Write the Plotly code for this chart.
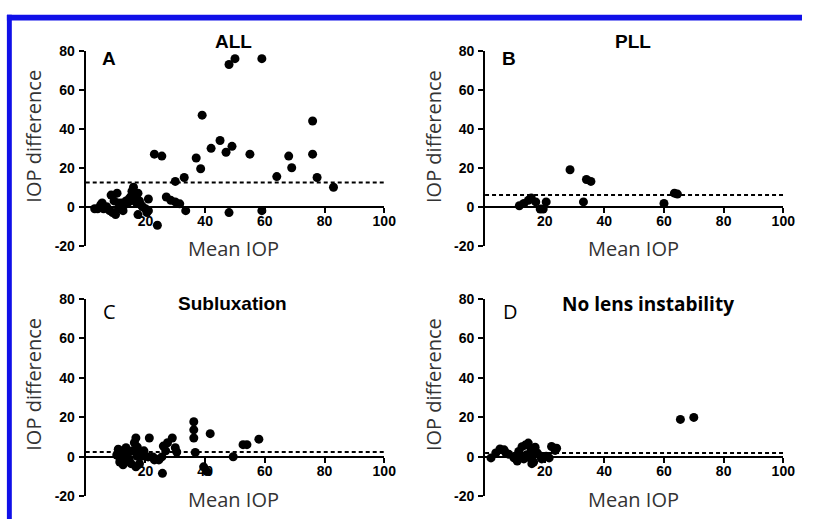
import plotly.graph_objects as go

W, H = 814, 527

# ---------------- data ----------------
panel_letters = ["A", "B", "C", "D"]
panel_titles = ["ALL", "PLL", "Subluxation", "No lens instability"]

A_x = [3, 4, 5, 5.5, 6, 7, 8, 8.5, 9, 9.5, 10, 10.5, 11, 11, 12, 12.5, 13, 13.5, 14, 14.5,
       15, 15, 15.5, 16, 16, 16.5, 17, 17, 17.5, 18, 18.5, 19, 17.5, 20, 20.5, 21, 21, 24,
       27, 28.5, 30, 31.5, 33.5, 30, 33, 23, 25.5, 37, 38.5, 39, 42, 45, 47, 49, 48, 50, 59,
       55, 48, 59, 64, 68, 69, 76, 76, 77.5, 83]
A_y = [-1, -1, 1, 2, -1, 0, -2, 6, -3, 3, -4, 7, -1, 2, 2, -2, 1, 3, 2, 4,
       3, 5, 8, 6, 10, 4, 5, 2, 7, 3, 1, 0, -4, -1, -3, 4, -2, -9.5,
       5, 3.3, 2.5, 1.5, -2, 13, 15, 27, 26, 25, 19.5, 47, 30, 34, 28, 31, 73, 76, 76,
       27, -3, -2, 15.5, 26, 20, 44, 27, 15, 10]

B_x = [11.5, 13, 14.5, 15.5, 17, 18.5, 19.5, 20.5, 28.5, 34, 35.5, 33, 60, 63.5, 64.5]
B_y = [0.5, 1.7, 3.3, 4.5, 2.5, -1.2, -1.2, 2.5, 19, 14, 13, 2.5, 1.7, 7, 6.5]

C_x = [10.9, 10.4, 11.4, 12.5, 13, 13.5, 14.6, 15.2, 15.7, 16.3, 16.8, 17.3, 17.2, 18, 16.8,
       19.5, 21.3, 20.9, 22.5, 23.4, 23, 25.7, 25.5, 26.8, 27.4, 29, 30, 30.5, 36.2, 36.2,
       36.2, 36.7, 41.7, 39.5, 40.6, 49.4, 52.7, 54, 58, 26, 14, 12, 17.5, 24.5, 19, 11.5, 13.5]
C_y = [3.9, 1, -2.6, -4, 1.5, 4.7, -1, -3.4, 3.1, 7.2, 9.6, 5, 0.5, -3.4, -5,
       3.1, 9.6, 0, 0, -1, -1.5, -8.3, 0, 3.1, 7.2, 9.6, 4.7, 2.5, 17.8, 13.7,
       9.6, 2.3, 11.8, -5, -7.4, 0.1, 6.2, 6.2, 9, 5.5, 2.5, 3, 2, -1.5, 0.5, -1, -2]

D_x = [2, 3.6, 6.4, 8, 9.7, 10.8, 11.3, 12.4, 13.5, 14, 14.5, 15, 15.5, 16.8, 16.3, 15.7,
       17.5, 18.5, 20.5, 21.5, 22.3, 24, 23.5, 65.5, 70, 5, 7, 12, 13, 16, 19]
D_y = [-0.5, 2, 3.6, 1.3, -0.5, -2.1, 2.8, 5.2, 6, 1.1, 7, -0.5, 3.5, 4.9, -2.6, -3.4,
       2, 0.5, 0.3, -0.5, 5.3, 4.4, 3.3, 19, 20, 4, 2, 0, -1, 1, -1]

mean_diff = [12.5, 6, 2.5, 2]

x_ticks = [20, 40, 60, 80, 100]
y_ticks = [-20, 0, 20, 40, 60, 80]
x_title = "Mean IOP"
y_title = "IOP difference"

series = [(A_x, A_y), (B_x, B_y), (C_x, C_y), (D_x, D_y)]

# ---------------- layout geometry (pixels) ----------------
def px_x(p):
    return p / W

def px_y(p):
    return 1 - p / H

x_spans = [(87, 390), (492.3, 795), (87, 390), (492.3, 795)]
y_spans = [(44.2, 205, 245.2), (44.2, 205, 245.2), (300, 463, 503.75), (300, 463, 503.75)]

fig = go.Figure()
tick_font = dict(family="Liberation Sans, Arial", size=14, color="black", weight="bold")
title_font = dict(family="Open Sans", size=20, color="#333333")

layout = dict(
    width=W, height=H,
    margin=dict(l=0, r=0, t=0, b=0),
    paper_bgcolor="white", plot_bgcolor="white",
    showlegend=False,
)

annotations = []
shapes = []

for i, ((xs, ys), (xl, xr), (yt, y0, yb)) in enumerate(zip(series, x_spans, y_spans)):
    n = "" if i == 0 else str(i + 1)
    xa, ya = "x" + n, "y" + n
    fig.add_trace(go.Scatter(
        x=xs, y=ys, mode="markers", xaxis=xa, yaxis=ya,
        marker=dict(color="black", size=9, symbol="circle", line=dict(width=0)),
        cliponaxis=False,
    ))
    layout["xaxis" + n] = dict(
        domain=[px_x(xl), px_x(xr)], range=[0, 100], anchor="free",
        position=px_y(y0), showgrid=False, zeroline=False,
        showline=True, linecolor="black", linewidth=2,
        ticks="outside", ticklen=5, tickwidth=2, tickcolor="black",
        tickvals=x_ticks, ticktext=["<b>%d</b>" % v for v in x_ticks],
        tickfont=tick_font, ticklabelstandoff=-4,
        fixedrange=True,
    )
    layout["yaxis" + n] = dict(
        domain=[px_y(yb), px_y(yt)], range=[-20, 80], anchor=xa,
        showgrid=False, zeroline=False,
        showline=True, linecolor="black", linewidth=2,
        ticks="outside", ticklen=5, tickwidth=2, tickcolor="black",
        tickvals=y_ticks, ticktext=["<b>%d</b>" % v for v in y_ticks],
        tickfont=tick_font, ticklabelstandoff=1, fixedrange=True,
    )
    shapes.append(dict(type="line", xref=xa, yref=ya, x0=0, x1=100,
                       y0=mean_diff[i], y1=mean_diff[i],
                       line=dict(color="black", width=2, dash="4px,3px")))
    cx = (xl + xr) / 2
    annotations.append(dict(text=x_title, xref="paper", yref="paper",
                            x=px_x(cx - 1), y=px_y(yb + 3), xanchor="center", yanchor="middle",
                            showarrow=False, font=title_font))
    annotations.append(dict(text=y_title, xref="paper", yref="paper",
                            x=px_x(xl - 53), y=px_y(yt + 88), xanchor="center", yanchor="middle",
                            textangle=-90, showarrow=False, font=title_font))
    if i < 3:
        tfont = dict(family="Liberation Sans, Arial", size=19, color="black", weight="bold")
    else:
        tfont = dict(family="Open Sans", size=19, color="black", weight="bold")
    tx = [237, 642, 236, 658][i]
    ty = [35, 35, 305, 305][i]
    annotations.append(dict(text="<b>%s</b>" % panel_titles[i], xref="paper", yref="paper",
                            x=px_x(tx), y=px_y(ty), xanchor="center", yanchor="middle",
                            showarrow=False, font=tfont))
    if i < 2:
        lfont = dict(family="Liberation Sans, Arial", size=19, color="black", weight="bold")
        ltxt = "<b>%s</b>" % panel_letters[i]
    else:
        lfont = dict(family="Open Sans", size=20, color="black")
        ltxt = panel_letters[i]
    lx = [111, 517, 111, 518][i]
    ly = [52, 52, 313, 313][i]
    annotations.append(dict(text=ltxt, xref="paper", yref="paper",
                            x=px_x(lx), y=px_y(ly), xanchor="center", yanchor="middle",
                            showarrow=False, font=lfont))

# blue frame (top and left edges)
shapes.append(dict(type="rect", xref="paper", yref="paper", layer="below",
                   x0=px_x(7), x1=1, y0=px_y(13), y1=px_y(7),
                   fillcolor="#1010e8", line=dict(width=0)))
shapes.append(dict(type="rect", xref="paper", yref="paper", layer="below",
                   x0=px_x(7), x1=px_x(12), y0=0, y1=px_y(7),
                   fillcolor="#1010e8", line=dict(width=0)))

layout["annotations"] = annotations
layout["shapes"] = shapes
fig.update_layout(**layout)
fig.write_html("out.html", config={"displayModeBar": False},
               post_script="document.body.style.margin='0';document.body.style.overflow='hidden';")
